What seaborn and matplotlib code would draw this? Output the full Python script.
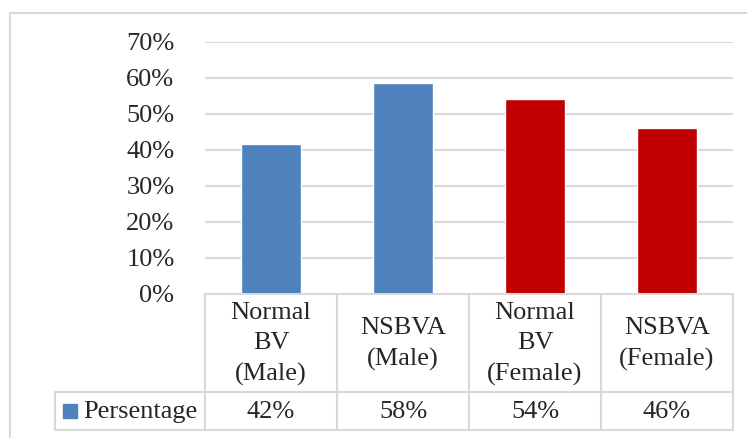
import numpy as np
import pandas as pd
import matplotlib
matplotlib.use('Agg')
import matplotlib.pyplot as plt
import seaborn as sns
from matplotlib.lines import Line2D
from matplotlib.patches import Rectangle

# datos
categorias = ['Normal\nBV\n(Male)', 'NSBVA\n(Male)', 'Normal\nBV\n(Female)', 'NSBVA\n(Female)']
valores = [0.418, 0.585, 0.541, 0.46]
etiquetas_tabla = ['42%', '58%', '54%', '46%']
serie = 'Persentage'
colores = ['#4f81bd', '#4f81bd', '#c00000', '#c00000']
yticks = [0, 0.1, 0.2, 0.3, 0.4, 0.5, 0.6, 0.7]

sns.set_style('white')
plt.rcParams['font.family'] = ['Liberation Serif', 'DejaVu Serif']

W, H = 747, 438
fig = plt.figure(figsize=(W / 100, H / 100), dpi=100)

def fx(x):
    return x / W

def fy(y):
    return 1 - y / H

gris = '#d9d9d9'
fs = 19

# borde exterior
fig.add_artist(Line2D([fx(10), fx(10)], [fy(13), fy(438)], color=gris, lw=1.5))
fig.add_artist(Line2D([fx(10), fx(747)], [fy(13), fy(13)], color=gris, lw=1.5))

# grafico de barras
ax = fig.add_axes([fx(205), fy(294), fx(733) - fx(205), fy(42) - fy(294)])
df = pd.DataFrame({'cat': categorias, 'val': valores})
sns.barplot(data=df, x='cat', y='val', hue='cat', palette=colores, width=0.45,
            legend=False, ax=ax, saturation=1)
ax.set_xlim(-0.5, 3.5)
ax.set_ylim(0, 0.7)
ax.set_yticks(yticks)
ax.set_yticklabels([f'{int(round(t * 100))}%' for t in yticks], fontsize=fs)
ax.tick_params(axis='y', length=0, pad=22)
ax.set_xticks([])
ax.set_xlabel('')
ax.set_ylabel('')
ax.yaxis.grid(True, color=gris, lw=1.5)
ax.set_axisbelow(True)
for s in ['top', 'right', 'left']:
    ax.spines[s].set_visible(False)
ax.spines['bottom'].set_color(gris)
ax.spines['bottom'].set_linewidth(1.5)

# tabla de datos
col_x = [205, 337, 469, 601, 733]
y_top, y_mid, y_bot = 294, 392, 430
lineas = []
for x in col_x:
    lineas.append(([x, x], [y_top, y_bot]))
lineas.append(([55, 55], [y_mid, y_bot]))
lineas.append(([55, 733], [y_mid, y_mid]))
lineas.append(([55, 733], [y_bot, y_bot]))
for xs, ys in lineas:
    fig.add_artist(Line2D([fx(v) for v in xs], [fy(v) for v in ys], color=gris, lw=1.5))

for i, (c, t) in enumerate(zip(categorias, etiquetas_tabla)):
    xc = (col_x[i] + col_x[i + 1]) / 2
    fig.text(fx(xc), fy((y_top + y_mid) / 2 + 1), c, ha='center', va='center',
             fontsize=fs, linespacing=1.5)
    fig.text(fx(xc), fy((y_mid + y_bot) / 2 + 1), t, ha='center', va='center', fontsize=fs)

fig.add_artist(Rectangle((fx(63), fy(418)), fx(14), fy(404) - fy(418), color='#4f81bd'))
fig.text(fx(83), fy(412), serie, ha='left', va='center', fontsize=fs)

fig.savefig('out.png', dpi=100)
